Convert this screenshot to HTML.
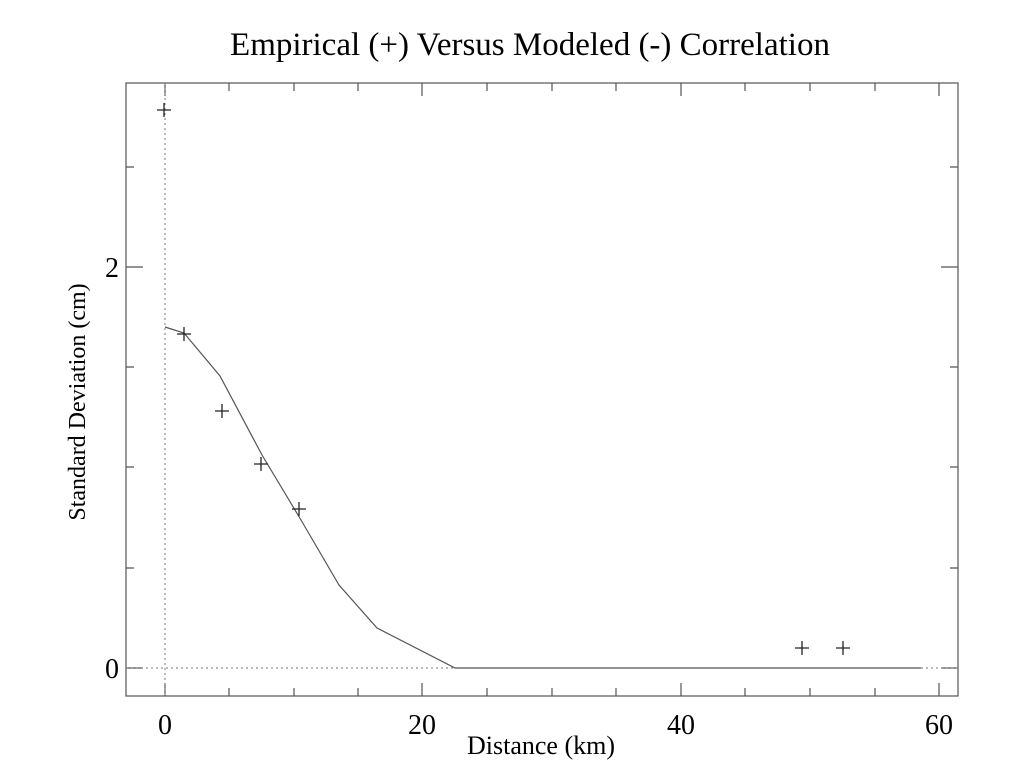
<!DOCTYPE html>
<html><head><style>body{margin:0;background:#fff}</style></head><body>
<svg width="1024" height="768" xmlns="http://www.w3.org/2000/svg" font-family="Liberation Serif, serif">
<rect width="1024" height="768" fill="#fff"/>
<text x="530" y="55" font-size="33" text-anchor="middle" fill="#000">Empirical (+) Versus Modeled (-) Correlation</text>
<g stroke="#555" stroke-width="1.2" fill="none">
<rect x="126" y="83" width="832" height="613"/>
<path d="M165 696v-13M422 696v-13M681 696v-13M939 696v-13M165 83v13M422 83v13M681 83v13M939 83v13"/>
<path d="M229 696v-8M294 696v-8M358 696v-8M487 696v-8M552 696v-8M616 696v-8M745 696v-8M810 696v-8M875 696v-8M229 83v8M294 83v8M358 83v8M487 83v8M552 83v8M616 83v8M745 83v8M810 83v8M875 83v8"/>
<path d="M126 668h17M126 267h17M958 668h-17M958 267h-17"/>
<path d="M126 568h8M126 467h8M126 367h8M126 167h8M958 568h-8M958 467h-8M958 367h-8M958 167h-8"/>
</g>
<g stroke="#777" stroke-width="1" stroke-dasharray="2,3" fill="none">
<path d="M165 83V696"/><path d="M126 668H455"/><path d="M921 668H958"/>
</g>
<polyline fill="none" stroke="#555" stroke-width="1.2" points="165,327 184,333 220,376 262,455 301,520 339,585 377,628 455,668 921,668"/>
<g stroke="#222" stroke-width="1.3">
<path d="M157 110h14M164 103v14"/>
<path d="M177 334h14M184 327v14"/>
<path d="M215 411h14M222 404v14"/>
<path d="M254 464h14M261 457v14"/>
<path d="M292 509h14M299 502v14"/>
<path d="M795 648h14M802 641v14"/>
<path d="M836 648h14M843 641v14"/>
</g>
<g font-size="28" fill="#000" text-anchor="middle">
<text x="165" y="734">0</text><text x="422" y="734">20</text><text x="681" y="734">40</text><text x="939" y="734">60</text>
<text x="119" y="678" text-anchor="end">0</text><text x="119" y="277" text-anchor="end">2</text>
<text x="541" y="754" font-size="26">Distance (km)</text>
<text transform="translate(85,402) rotate(-90)" font-size="24">Standard Deviation (cm)</text>
</g>
</svg>
</body></html>
